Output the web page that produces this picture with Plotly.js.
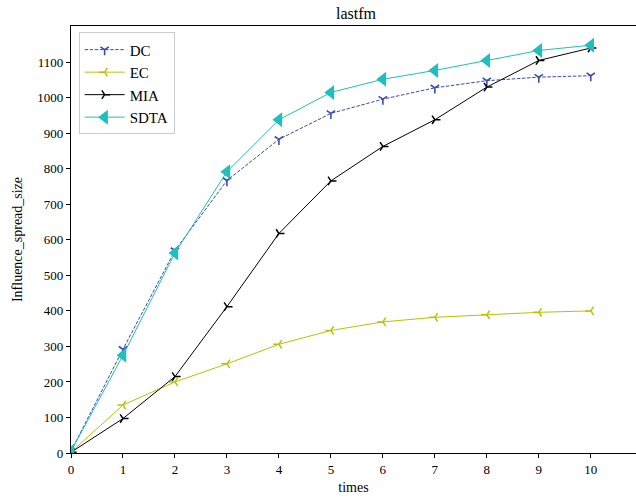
<!DOCTYPE html>
<html>
<head>
<meta charset="utf-8">
<script src="https://cdn.plot.ly/plotly-3.0.1.min.js"></script>
<style>html,body{margin:0;padding:0;background:#fff;}#chart{width:636px;height:502px;}</style>
</head>
<body>
<div id="chart"></div>
<script>
const times = [0, 1, 2, 3, 4, 5, 6, 7, 8, 9, 10];
const DC   = [5, 292, 570, 767, 883, 956, 996, 1028, 1048, 1058, 1062];
const EC   = [2, 135, 200, 251, 306, 345, 369, 382, 389, 396, 400];
const MIA  = [2, 97, 215, 412, 618, 766, 863, 938, 1030, 1105, 1140];
const SDTA = [5, 275, 563, 792, 938, 1015, 1052, 1077, 1105, 1133, 1148];
const yTicks = [0, 100, 200, 300, 400, 500, 600, 700, 800, 900, 1000, 1100];
const xTicks = [0, 1, 2, 3, 4, 5, 6, 7, 8, 9, 10];

const FONT = '"Liberation Serif", "DejaVu Serif", serif';

const traces = [
  {x: times, y: DC, name: 'DC', mode: 'lines+markers',
   line: {color: '#3a4ab4', width: 1, dash: '3.5px,1.6px'},
   marker: {symbol: 'y-down', size: 7, color: '#3a4ab4', line: {color: '#3a4ab4', width: 1.6}}},
  {x: times, y: EC, name: 'EC', mode: 'lines+markers',
   line: {color: '#bfbf00', width: 1},
   marker: {symbol: 'y-left', size: 7, color: '#bfbf00', line: {color: '#bfbf00', width: 1.5}}},
  {x: times, y: MIA, name: 'MIA', mode: 'lines+markers',
   line: {color: '#000000', width: 1},
   marker: {symbol: 'y-right', size: 7, color: '#000000', line: {color: '#000000', width: 1.5}}},
  {x: times, y: SDTA, name: 'SDTA', mode: 'lines+markers',
   line: {color: '#1fbfbf', width: 1},
   marker: {symbol: 'triangle-left', size: 13, color: '#1fbfbf', line: {width: 0}}}
];

const layout = {
  width: 636, height: 502,
  margin: {l: 70.7, r: 0, t: 25.7, b: 49, pad: 0},
  paper_bgcolor: '#ffffff', plot_bgcolor: '#ffffff',
  font: {family: FONT, size: 13, color: '#000'},
  title: {text: 'lastfm', font: {family: FONT, size: 16, color: '#000'},
          x: 356/636, xanchor: 'center', y: 1 - 13/502, yanchor: 'middle'},
  xaxis: {range: [0, 10.87], tickvals: xTicks, ticktext: xTicks.map(String),
          showgrid: false, zeroline: false, showline: true, linecolor: '#000', linewidth: 1.2,
          mirror: true, ticks: 'outside', ticklen: 4, tickwidth: 1, tickcolor: '#000',
          tickfont: {family: FONT, size: 13},
          title: {text: 'times', font: {family: FONT, size: 14}, standoff: 6}},
  yaxis: {range: [0, 1202], tickvals: yTicks, ticktext: yTicks.map(String),
          showgrid: false, zeroline: false, showline: true, linecolor: '#000', linewidth: 1.2,
          mirror: false, ticks: 'outside', ticklen: 4, tickwidth: 1, tickcolor: '#000',
          tickfont: {family: FONT, size: 13},
          title: {text: 'Influence_spread_size', font: {family: FONT, size: 14}, standoff: 11}},
  legend: {x: 0.0135, y: 0.985, xanchor: 'left', yanchor: 'top',
           bgcolor: 'rgba(255,255,255,0.8)', bordercolor: '#cccccc', borderwidth: 1,
           font: {family: FONT, size: 15, color: '#000'}, itemwidth: 40, tracegroupgap: 0},
  showlegend: true
};

Plotly.newPlot('chart', traces, layout, {displayModeBar: false, staticPlot: true});
</script>
</body>
</html>
